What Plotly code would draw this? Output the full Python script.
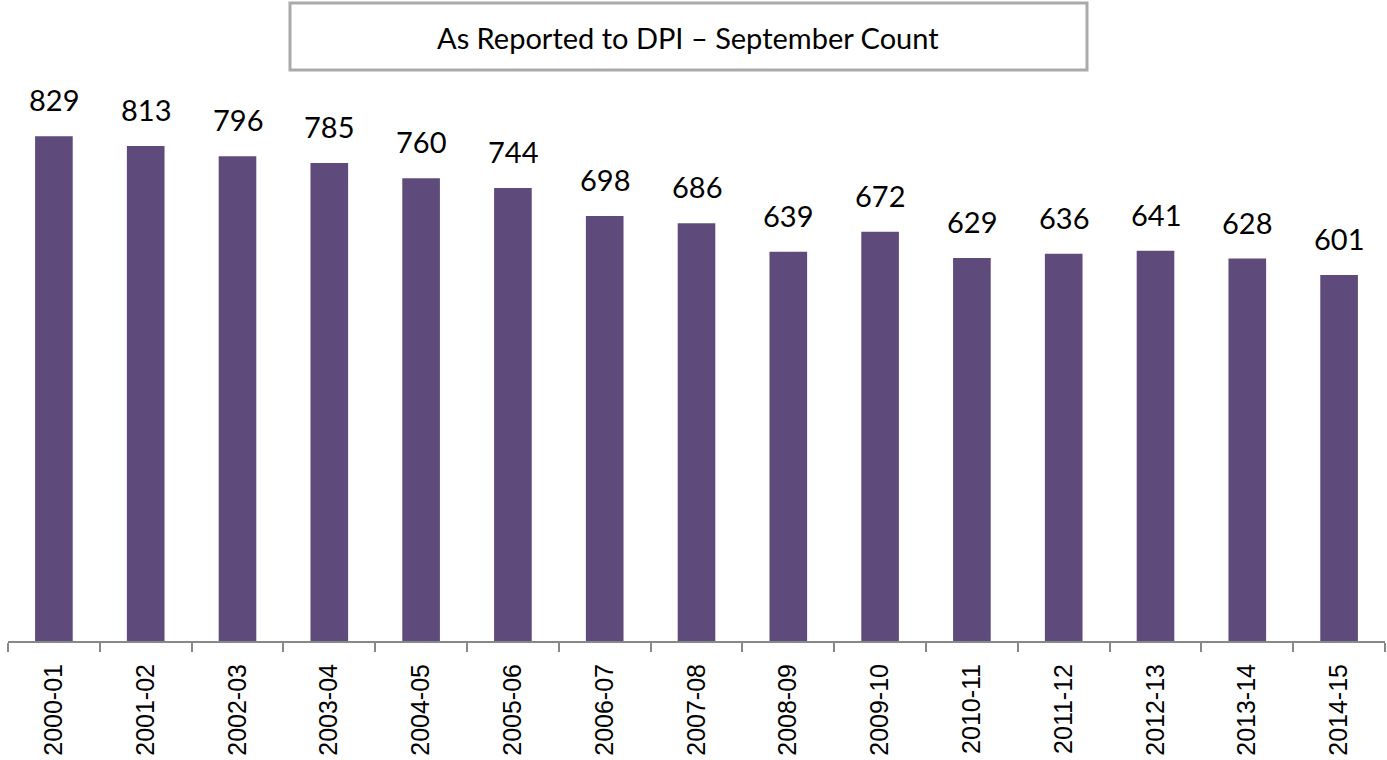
import plotly.graph_objects as go

years = ["2000-01", "2001-02", "2002-03", "2003-04", "2004-05", "2005-06", "2006-07",
         "2007-08", "2008-09", "2009-10", "2010-11", "2011-12", "2012-13", "2013-14", "2014-15"]
counts = [829, 813, 796, 785, 760, 744, 698, 686, 639, 672, 629, 636, 641, 628, 601]
title_text = "As Reported to DPI \u2013 September Count"

bar_color = "#5F4B7B"

fig = go.Figure()
fig.add_trace(go.Bar(
    x=years, y=counts, marker=dict(color=bar_color, line=dict(width=0)),
    width=0.41, hoverinfo="x+y",
))

for yr, c in zip(years, counts):
    fig.add_annotation(x=yr, y=c, text=str(c), showarrow=False, yanchor="bottom",
                       yshift=17, font=dict(family="Lato, Open Sans, sans-serif", size=29, color="#000000"))

PW, PH = 1377, 609
fig.add_shape(type="rect", xref="paper", yref="paper",
              x0=(290 - 8) / PW, x1=(1087 - 8) / PW,
              y0=(641 - 70) / PH, y1=(641 - 3) / PH,
              line=dict(color="#AAAAAA", width=3), fillcolor="white", layer="above")
fig.add_annotation(xref="paper", yref="paper", x=(688 - 8) / PW, y=(641 - 38) / PH,
                   text=title_text, showarrow=False, xanchor="center", yanchor="middle",
                   font=dict(family="Lato, Open Sans, sans-serif", size=29, color="#000000"))

fig.update_layout(
    width=1387, height=760,
    margin=dict(l=8, r=2, t=32, b=119),
    plot_bgcolor="white", paper_bgcolor="white",
    showlegend=False,
    bargap=0.59,
    xaxis=dict(
        type="category", showgrid=False, showline=True, linecolor="#888888", linewidth=2,
        ticks="outside", tickson="boundaries", ticklen=9, tickcolor="#888888", tickwidth=2,
        tickangle=-90, ticklabelstandoff=11,
        tickfont=dict(family="Liberation Sans, Arial, sans-serif", size=25, color="#000000"),
        range=[-0.5, len(years) - 0.5], automargin=False,
    ),
    yaxis=dict(range=[0, 1000], visible=False, showgrid=False, zeroline=False),
)

fig.write_html("out.html", config={"displayModeBar": False},
               post_script="document.body.style.margin='0';document.body.style.overflow='hidden';")
